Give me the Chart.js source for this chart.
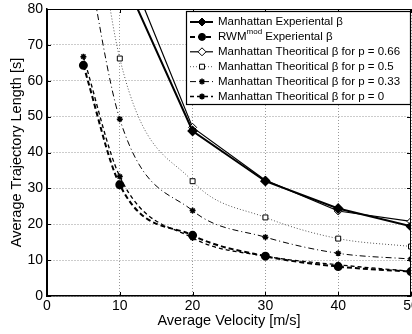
<!DOCTYPE html>
<html>
<head>
<meta charset="utf-8">
<script src="https://cdn.jsdelivr.net/npm/chart.js"></script>
<style>
  html, body { margin: 0; padding: 0; background: #fff; }
  #wrap { width: 412px; height: 334px; }
</style>
</head>
<body>
<div id="wrap"><canvas id="trajectoryChart" width="412" height="334"></canvas></div>
<script>
// velocities [m/s]
const velocity = [5, 10, 20, 30, 40, 50];
// average trajectory length [s]
const manhattanExp = [null, 91, 46, 32, 24.4, 19.4];
const rwmExp = [64.3, 31, 16.9, 11.1, 8.2, 6.8];
const theoP066 = [null, 97, 47, 32.3, 23.7, 20.8];
const theoP05 = [132, 66.2, 32, 21.9, 16, 13.8];
const theoP033 = [100, 49.3, 23.8, 16.4, 11.9, 10.3];
const theoP0 = [66.7, 33.3, 16.2, 11.1, 8.7, 6.9];

const FONT = '"Liberation Sans", Arial, sans-serif';

function pts(arr) {
  return velocity.map((v, i) => ({ x: v, y: arr[i] }));
}

const ctx = document.getElementById('trajectoryChart').getContext('2d');

const datasets = [{
  label: 'Manhattan Experiental β',
  data: pts(manhattanExp),
  borderColor: '#000', borderWidth: 2,
  pointStyle: 'rectRot', pointRadius: 4, pointBackgroundColor: '#000', pointBorderColor: '#000'
}, {
  label: 'RWM|mod| Experiental β',
  data: pts(rwmExp),
  borderColor: '#000', borderWidth: 2, borderDash: [5, 3],
  cubicInterpolationMode: 'monotone',
  pointStyle: 'circle', pointRadius: 3.5, pointBackgroundColor: '#000', pointBorderColor: '#000'
}, {
  label: 'Manhattan Theoritical β for p = 0.66',
  data: pts(theoP066),
  borderColor: '#000', borderWidth: 1.2,
  pointStyle: 'rectRot', pointRadius: 4, pointBackgroundColor: '#fff', pointBorderColor: '#000', pointBorderWidth: 1
}, {
  label: 'Manhattan Theoritical β for p = 0.5',
  data: pts(theoP05),
  borderColor: '#555', borderWidth: 1, borderDash: [1, 2],
  cubicInterpolationMode: 'monotone',
  pointStyle: 'rect', pointRadius: 3.5, pointBackgroundColor: '#fff', pointBorderColor: '#000', pointBorderWidth: 1
}, {
  label: 'Manhattan Theoritical β for p = 0.33',
  data: pts(theoP033),
  borderColor: '#000', borderWidth: 1, borderDash: [6, 3, 1, 3],
  cubicInterpolationMode: 'monotone',
  pointStyle: 'star', pointRadius: 3, pointBackgroundColor: '#000', pointBorderColor: '#000', pointBorderWidth: 1.5
}, {
  label: 'Manhattan Theoritical β for p = 0',
  data: pts(theoP0),
  borderColor: '#000', borderWidth: 1.3, borderDash: [4, 3],
  cubicInterpolationMode: 'monotone',
  pointStyle: 'star', pointRadius: 3, pointBackgroundColor: '#000', pointBorderColor: '#000', pointBorderWidth: 1.5
}];

// frame on top/right + inward ticks (matlab look)
const framePlugin = {
  id: 'frame',
  afterDatasetsDraw(chart) {
    const { ctx, chartArea: a, scales } = chart;
    ctx.save();
    ctx.strokeStyle = '#000';
    ctx.lineWidth = 1;
    ctx.setLineDash([]);
    ctx.strokeRect(a.left + 0.5, a.top + 0.5, a.right - a.left - 1, a.bottom - a.top - 1);
    ctx.beginPath();
    scales.x.ticks.forEach(t => {
      const px = Math.round(scales.x.getPixelForValue(t.value)) + 0.5;
      ctx.moveTo(px, a.bottom); ctx.lineTo(px, a.bottom - 4);
      ctx.moveTo(px, a.top); ctx.lineTo(px, a.top + 4);
    });
    scales.y.ticks.forEach(t => {
      const py = Math.round(scales.y.getPixelForValue(t.value)) + 0.5;
      ctx.moveTo(a.left, py); ctx.lineTo(a.left + 4, py);
      ctx.moveTo(a.right, py); ctx.lineTo(a.right - 4, py);
    });
    ctx.stroke();
    ctx.restore();
  }
};

// boxed legend inside the plot, upper right
const legendPlugin = {
  id: 'boxLegend',
  afterDraw(chart) {
    const c = chart.ctx;
    const x0 = 186, y0 = 11, x1 = 411, y1 = 105;
    c.save();
    c.fillStyle = '#fff';
    c.fillRect(x0, y0, x1 - x0, y1 - y0);
    c.strokeStyle = '#000';
    c.lineWidth = 1.2;
    c.strokeRect(x0 + 0.5, y0 + 0.5, x1 - x0 - 1, y1 - y0 - 1);
    chart.data.datasets.forEach((ds, i) => {
      const y = 22 + i * 14.9;
      c.strokeStyle = ds.borderColor;
      c.lineWidth = ds.borderWidth;
      c.setLineDash(ds.borderDash || []);
      c.beginPath();
      c.moveTo(190, y); c.lineTo(213, y);
      c.stroke();
      c.setLineDash([]);
      c.fillStyle = ds.pointBackgroundColor;
      c.strokeStyle = ds.pointBorderColor;
      c.lineWidth = ds.pointBorderWidth || 1;
      Chart.helpers.drawPoint(c, { pointStyle: ds.pointStyle, radius: ds.pointRadius, rotation: 0, borderWidth: c.lineWidth }, 202, y);
      c.fillStyle = '#000';
      c.textBaseline = 'middle';
      c.font = '11.5px ' + FONT;
      const parts = ds.label.split('|');
      let tx = 218;
      parts.forEach((p, k) => {
        if (k === 1) {
          c.font = '8px ' + FONT;
          c.fillText(p, tx, y - 5);
          tx += c.measureText(p).width;
          c.font = '11.5px ' + FONT;
        } else {
          c.fillText(p, tx, y);
          tx += c.measureText(p).width;
        }
      });
    });
    c.restore();
  }
};

new Chart(ctx, {
  type: 'line',
  data: { datasets: datasets },
  options: {
    responsive: false,
    animation: false,
    layout: { autoPadding: false, padding: { top: 9, right: 1, left: 0, bottom: 0 } },
    plugins: {
      legend: { display: false },
      tooltip: { enabled: false }
    },
    scales: {
      x: {
        type: 'linear',
        min: 0, max: 50,
        ticks: { stepSize: 10, color: '#000', font: { family: FONT, size: 14 }, padding: 2, maxRotation: 0 },
        grid: { color: '#999', drawTicks: false, lineWidth: 1 },
        border: { color: '#000', width: 1.5, dash: [1, 2] },
        title: { display: true, text: 'Average Velocity [m/s]', color: '#000', font: { family: FONT, size: 14.5 }, padding: { top: 4, bottom: 4 } },
        afterFit(scale) { scale.height = 38; scale.paddingLeft = 0; scale.paddingRight = 0; }
      },
      y: {
        min: 0, max: 80,
        ticks: { stepSize: 10, color: '#000', font: { family: FONT, size: 14 }, padding: 4 },
        grid: { color: '#999', drawTicks: false, lineWidth: 1 },
        border: { color: '#000', width: 1.5, dash: [1, 2] },
        title: { display: true, text: 'Average Trajectory Length [s]', color: '#000', font: { family: FONT, size: 14.5 }, padding: { top: 8, bottom: 8 } },
        afterFit(scale) { scale.width = 47; scale.paddingTop = 0; scale.paddingBottom = 0; }
      }
    }
  },
  plugins: [framePlugin, legendPlugin]
});
</script>
</body>
</html>
